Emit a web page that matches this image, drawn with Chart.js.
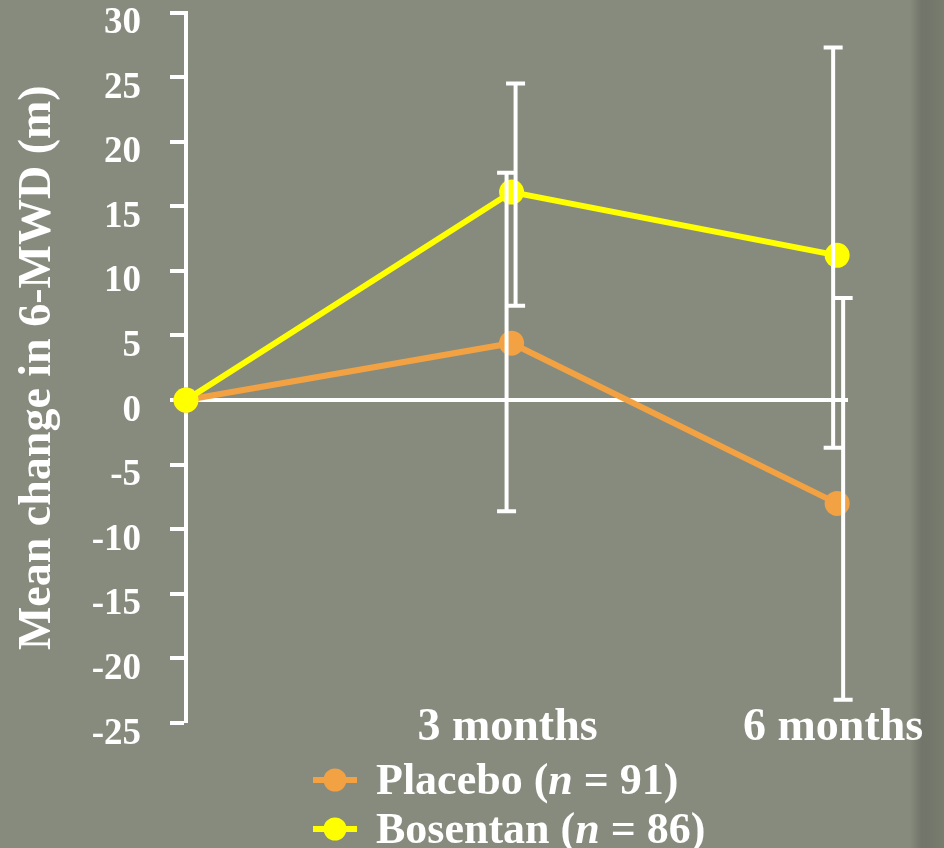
<!DOCTYPE html>
<html>
<head>
<meta charset="utf-8">
<script src="https://cdn.jsdelivr.net/npm/chart.js@4/dist/chart.umd.min.js"></script>
<style>
  html, body { margin: 0; padding: 0; }
  body {
    width: 944px; height: 848px; overflow: hidden;
    background: linear-gradient(to right, #878b7d 0, #878b7d 910px, #71756a 922px, #787c6e 944px);
  }
  #wrap { position: relative; width: 944px; height: 848px; }
</style>
</head>
<body>
<div id="wrap"><canvas id="chart" width="944" height="848"></canvas></div>
<script>
// Visit times (months from baseline) and their axis labels
const timepoints = [0, 3, 6];
const xTickLabels = ['', '3 months', '6 months'];
const yTicks = [-25, -20, -15, -10, -5, 0, 5, 10, 15, 20, 25, 30];

// Treatment groups
const seriesNames = ['Placebo', 'Bosentan'];
const seriesN = [91, 86];

// Mean change in 6-minute walk distance (m)
const placeboMean = [0, 4.4, -8.0];
const bosentanMean = [0, 16.1, 11.2];

// Error bar ends (m)
const placeboLow = [null, -8.6, -23.2];
const placeboHigh = [null, 17.6, 7.9];
const bosentanLow = [null, 7.3, -3.7];
const bosentanHigh = [null, 24.5, 27.3];

const FONT = '"Liberation Serif", "Times New Roman", serif';
const WHITE = '#ffffff';
const seriesColors = ['#f2a243', '#ffff00'];
// small sideways nudge of each error bar so overlapping bars stay visible
const barShift = [[0, -5, 6], [0, 4, -4]];

const toPoints = (vals) => vals.map((v, i) => ({ x: timepoints[i], y: v }));

const errorBars = {
  id: 'errorBars',
  afterDatasetsDraw(chart) {
    const { ctx, scales: { x, y } } = chart;
    const cap = 9.5;
    ctx.save();
    ctx.strokeStyle = WHITE;
    ctx.lineWidth = 4;
    chart.data.datasets.forEach((ds, di) => {
      ds.errLow.forEach((lo, i) => {
        const hi = ds.errHigh[i];
        if (lo == null || hi == null) return;
        const px = x.getPixelForValue(timepoints[i]) + barShift[di][i];
        const yHi = y.getPixelForValue(hi);
        const yLo = y.getPixelForValue(lo);
        ctx.beginPath();
        ctx.moveTo(px, yHi); ctx.lineTo(px, yLo);
        ctx.moveTo(px - cap, yHi); ctx.lineTo(px + cap, yHi);
        ctx.moveTo(px - cap, yLo); ctx.lineTo(px + cap, yLo);
        ctx.stroke();
      });
    });
    ctx.restore();
  }
};

// Category labels under the plot, placed at the x scale's tick positions
const timeLabels = {
  id: 'timeLabels',
  afterDraw(chart) {
    const { ctx, scales: { x }, chartArea } = chart;
    ctx.save();
    ctx.fillStyle = WHITE;
    ctx.font = `bold 46px ${FONT}`;
    ctx.textAlign = 'center';
    ctx.textBaseline = 'alphabetic';
    timepoints.forEach((t, i) => {
      if (!xTickLabels[i]) return;
      ctx.fillText(xTickLabels[i], x.getPixelForValue(t) - 4, chartArea.bottom + 17);
    });
    ctx.restore();
  }
};

// Two-row legend with an italic "n"
const legendRows = {
  id: 'legendRows',
  afterDraw(chart) {
    const ctx = chart.ctx;
    const rowY = [780, 829];
    const markX = 335, lineHalf = 22, textX = 376;
    const bold = `bold 44px ${FONT}`;
    const boldItalic = `italic bold 44px ${FONT}`;
    ctx.save();
    seriesNames.forEach((name, i) => {
      const cy = rowY[i];
      const col = seriesColors[i];
      ctx.strokeStyle = col;
      ctx.lineWidth = 6;
      ctx.beginPath();
      ctx.moveTo(markX - lineHalf, cy);
      ctx.lineTo(markX + lineHalf, cy);
      ctx.stroke();
      ctx.fillStyle = col;
      ctx.beginPath();
      ctx.arc(markX, cy, 11.5, 0, Math.PI * 2);
      ctx.fill();

      ctx.fillStyle = WHITE;
      ctx.textBaseline = 'alphabetic';
      ctx.textAlign = 'left';
      const base = cy + 14;
      let tx = textX;
      const parts = [
        [name + ' (', bold],
        ['n', boldItalic],
        [' = ' + seriesN[i] + ')', bold]
      ];
      parts.forEach(([t, f]) => {
        ctx.font = f;
        ctx.fillText(t, tx, base);
        tx += ctx.measureText(t).width;
      });
    });
    ctx.restore();
  }
};

new Chart(document.getElementById('chart'), {
  type: 'line',
  data: {
    datasets: [
      {
        label: seriesNames[0],
        data: toPoints(placeboMean),
        errLow: placeboLow,
        errHigh: placeboHigh,
        borderColor: seriesColors[0],
        backgroundColor: seriesColors[0],
        pointBackgroundColor: seriesColors[0],
        borderWidth: 6,
        pointRadius: 12.5,
        pointBorderWidth: 0,
        tension: 0,
        clip: false,
        order: 1
      },
      {
        label: seriesNames[1],
        data: toPoints(bosentanMean),
        errLow: bosentanLow,
        errHigh: bosentanHigh,
        borderColor: seriesColors[1],
        backgroundColor: seriesColors[1],
        pointBackgroundColor: seriesColors[1],
        borderWidth: 6,
        pointRadius: 12.5,
        pointBorderWidth: 0,
        tension: 0,
        clip: false,
        order: 0
      }
    ]
  },
  options: {
    responsive: false,
    animation: false,
    layout: { padding: { top: 12, right: 96, bottom: 0, left: 0 } },
    plugins: { legend: { display: false }, tooltip: { enabled: false } },
    scales: {
      x: {
        type: 'linear',
        min: 0,
        max: 6.1,
        afterFit: (s) => { s.height = 125; s.paddingLeft = 0; s.paddingRight = 0; },
        border: { display: false },
        grid: { display: false, drawTicks: false },
        ticks: { display: false }
      },
      y: {
        min: -25,
        max: 30,
        afterFit: (s) => { s.width = 186; s.paddingTop = 0; s.paddingBottom = 0; },
        afterBuildTicks: (s) => { s.ticks = yTicks.map(v => ({ value: v })); },
        border: { display: true, color: WHITE, width: 4 },
        grid: {
          drawOnChartArea: true,
          color: (c) => (c.tick && c.tick.value === 0 ? WHITE : 'rgba(0,0,0,0)'),
          lineWidth: (c) => (c.tick && c.tick.value === 0 ? 4 : 0),
          tickColor: WHITE,
          tickWidth: 4,
          tickLength: 16
        },
        ticks: {
          color: WHITE,
          padding: 29,
          labelOffset: 11,
          font: { family: FONT, size: 37, weight: 'bold' },
          callback: (v) => String(v)
        },
        title: {
          display: true,
          text: 'Mean change in 6-MWD (m)',
          color: WHITE,
          font: { family: FONT, size: 46, weight: 'bold' },
          padding: { top: 11, bottom: 0 }
        }
      }
    }
  },
  plugins: [errorBars, timeLabels, legendRows]
});
</script>
</body>
</html>
